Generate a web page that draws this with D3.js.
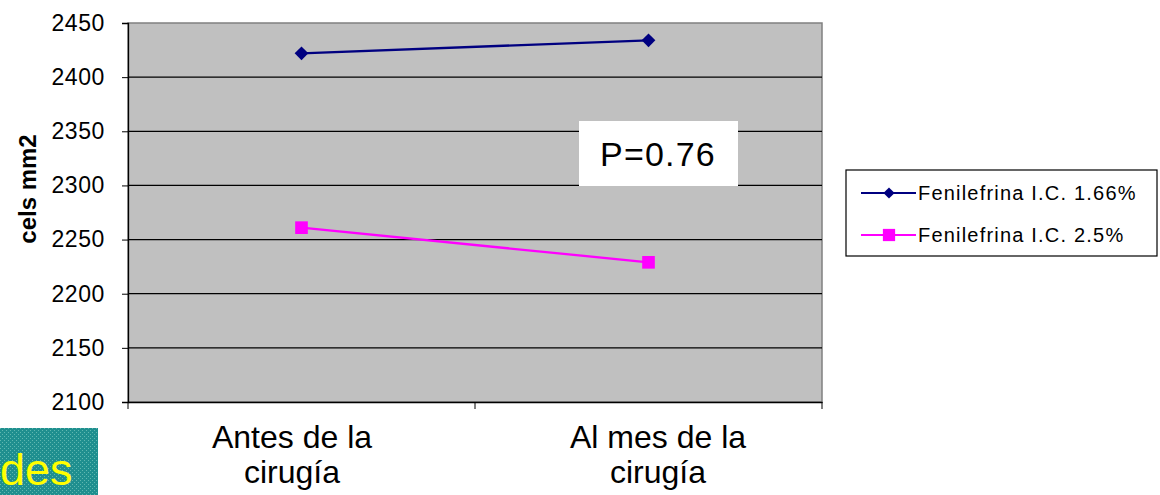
<!DOCTYPE html>
<html>
<head>
<meta charset="utf-8">
<script src="https://cdn.jsdelivr.net/npm/d3@7"></script>
<style>
  body { margin: 0; background: #fff; }
  text { font-family: "Liberation Sans", Arial, sans-serif; }
</style>
</head>
<body>
<div id="chart"></div>
<script>
var width = 1160,
    height = 495

// data
var categories = [["Antes de la", "cirugía"], ["Al mes de la", "cirugía"]]
var seriesNames = ["Fenilefrina I.C. 1.66%", "Fenilefrina I.C. 2.5%"]
var values166 = [2422, 2434]
var values25 = [2261, 2229]
var yTicks = [2100, 2150, 2200, 2250, 2300, 2350, 2400, 2450]
var colors = ["#000080", "#ff00ff"]

var plot = {left: 128, right: 822, top: 23, bottom: 402}

var svg = d3.select("#chart")
  .append("svg")
    .attr("width", width)
    .attr("height", height)

// dotted fill for the cut-off box at the bottom left
var defs = svg.append("defs")
var pat = defs.append("pattern")
    .attr("id", "dots")
    .attr("width", 4).attr("height", 4)
    .attr("patternUnits", "userSpaceOnUse")
pat.append("rect").attr("width", 4).attr("height", 4).attr("fill", "#1f8f8f")
pat.append("rect").attr("x", 0).attr("y", 0).attr("width", 1).attr("height", 1).attr("fill", "#5fb8b0")
pat.append("rect").attr("x", 2).attr("y", 2).attr("width", 1).attr("height", 1).attr("fill", "#5fb8b0")

var x = d3.scaleBand()
  .domain(d3.range(categories.length))
  .range([plot.left, plot.right])

var y = d3.scaleLinear()
  .domain([2100, 2450])
  .range([plot.bottom, plot.top])

// plot area
svg.append("rect")
  .attr("x", plot.left).attr("y", plot.top)
  .attr("width", plot.right - plot.left).attr("height", plot.bottom - plot.top)
  .attr("fill", "#c0c0c0")
  .attr("stroke", "#808080")
  .attr("stroke-width", 1.5)

// gridlines
svg.selectAll(".grid")
  .data(yTicks.filter(function(d){ return d > 2100 && d < 2450 }))
  .enter()
  .append("line")
    .attr("x1", plot.left).attr("x2", plot.right)
    .attr("y1", function(d){ return y(d) }).attr("y2", function(d){ return y(d) })
    .attr("stroke", "#000")
    .attr("stroke-width", 1.3)

// y axis
var yAxis = svg.append("g")
  .attr("transform", "translate(" + plot.left + ",0)")
  .call(d3.axisLeft(y).tickValues(yTicks).tickFormat(d3.format("d")).tickSize(6).tickPadding(17))
yAxis.select(".domain").attr("stroke", "#000").attr("stroke-width", 1.3)
yAxis.selectAll("text")
  .style("font-size", "23px")
  .style("letter-spacing", "0.6px")
  .attr("fill", "#000")

// x axis
var xAxis = svg.append("g")
  .attr("transform", "translate(0," + plot.bottom + ")")
  .call(d3.axisBottom(x).tickSize(0).tickFormat(""))
xAxis.select(".domain").attr("stroke", "#000").attr("stroke-width", 1.5)
svg.selectAll(".xtick")
  .data(d3.range(categories.length + 1))
  .enter()
  .append("line")
    .attr("x1", function(d){ return plot.left + d * x.step() })
    .attr("x2", function(d){ return plot.left + d * x.step() })
    .attr("y1", plot.bottom).attr("y2", plot.bottom + 7)
    .attr("stroke", "#000")

// category labels sit a little outside the band centres in the original
var labelX = function(i){ return x(i) + x.bandwidth() / 2 + (i - 0.5) * 19 }
var xl = svg.selectAll(".xlab")
  .data(categories)
  .enter()
  .append("text")
    .attr("text-anchor", "middle")
    .style("font-size", "32px")
    .attr("fill", "#000")
xl.selectAll("tspan")
  .data(function(d){ return d })
  .enter()
  .append("tspan")
    .attr("x", function(d, i, n){ return labelX(categories.indexOf(d3.select(n[i].parentNode).datum())) })
    .attr("y", function(d, i){ return 448 + i * 35 })
    .text(function(d){ return d })

// y axis title
svg.append("text")
  .attr("transform", "translate(36,189) rotate(-90)")
  .attr("text-anchor", "middle")
  .style("font-size", "24px")
  .style("font-weight", "bold")
  .text("cels mm2")

// lines
var series = [values166, values25]
var line = d3.line()
  .x(function(d, i){ return x(i) + x.bandwidth() / 2 })
  .y(function(d){ return y(d) })

svg.selectAll(".serie")
  .data(series)
  .enter()
  .append("path")
    .attr("d", line)
    .attr("fill", "none")
    .attr("stroke", function(d, i){ return colors[i] })
    .attr("stroke-width", 2.3)

var diamond = d3.symbol().type(d3.symbolDiamond2).size(120)
var square = d3.symbol().type(d3.symbolSquare).size(160)

svg.selectAll(".m1")
  .data(values166)
  .enter()
  .append("path")
    .attr("d", diamond)
    .attr("transform", function(d, i){ return "translate(" + (x(i) + x.bandwidth() / 2) + "," + y(d) + ")" })
    .attr("fill", colors[0])

svg.selectAll(".m2")
  .data(values25)
  .enter()
  .append("path")
    .attr("d", square)
    .attr("transform", function(d, i){ return "translate(" + (x(i) + x.bandwidth() / 2) + "," + y(d) + ")" })
    .attr("fill", colors[1])

// P value box
svg.append("rect")
  .attr("x", 579).attr("y", 121).attr("width", 159).attr("height", 65)
  .attr("fill", "#fff")
svg.append("text")
  .attr("x", 658).attr("y", 166)
  .attr("text-anchor", "middle")
  .style("font-size", "34px")
  .style("letter-spacing", "1.2px")
  .text("P=0.76")

// legend
var legend = svg.append("g").attr("transform", "translate(846,170)")
legend.append("rect")
  .attr("width", 311).attr("height", 86)
  .attr("fill", "#fff").attr("stroke", "#000").attr("stroke-width", 1.2)
var items = legend.selectAll(".item")
  .data(seriesNames)
  .enter()
  .append("g")
    .attr("transform", function(d, i){ return "translate(0," + (23 + i * 42) + ")" })
items.append("line")
  .attr("x1", 15).attr("x2", 70)
  .attr("stroke", function(d, i){ return colors[i] })
  .attr("stroke-width", 2)
items.append("path")
  .attr("d", function(d, i){ return i == 0 ? d3.symbol().type(d3.symbolDiamond2).size(80)() : d3.symbol().type(d3.symbolSquare).size(150)() })
  .attr("transform", "translate(43,0)")
  .attr("fill", function(d, i){ return colors[i] })
items.append("text")
  .attr("x", 72).attr("y", 7)
  .style("font-size", "20px")
  .style("letter-spacing", "1.2px")
  .text(function(d){ return d })

// cut-off box at the bottom left
svg.append("rect")
  .attr("x", 0).attr("y", 428).attr("width", 98).attr("height", 67)
  .attr("fill", "url(#dots)")
svg.append("text")
  .attr("x", 0).attr("y", 485)
  .style("font-size", "45px")
  .attr("fill", "#ffff00")
  .text("des")
</script>
</body>
</html>
